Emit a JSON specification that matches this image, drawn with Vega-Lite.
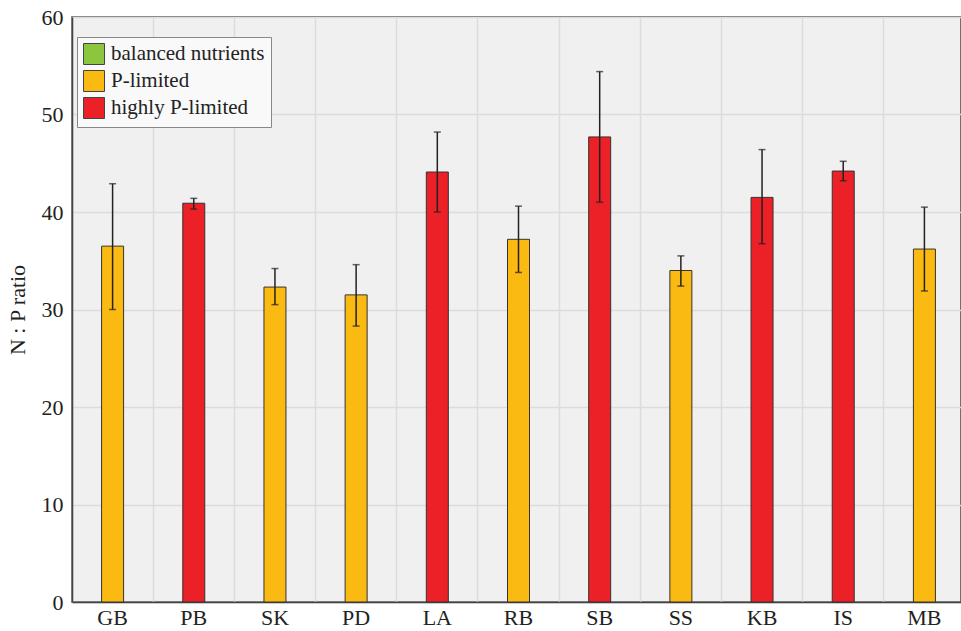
{
  "$schema": "https://vega.github.io/schema/vega-lite/v6.json",
  "autosize": {"type": "none"},
  "padding": {"left": 72, "top": 17, "right": 0, "bottom": 29},
  "width": 889,
  "height": 585,
  "background": "white",
  "data": {
    "values": [
      {"site": "GB", "ratio": 36.5, "lo": 30.0, "hi": 42.9, "class": "P-limited"},
      {"site": "PB", "ratio": 40.9, "lo": 40.3, "hi": 41.4, "class": "highly P-limited"},
      {"site": "SK", "ratio": 32.3, "lo": 30.5, "hi": 34.2, "class": "P-limited"},
      {"site": "PD", "ratio": 31.5, "lo": 28.3, "hi": 34.6, "class": "P-limited"},
      {"site": "LA", "ratio": 44.1, "lo": 40.0, "hi": 48.2, "class": "highly P-limited"},
      {"site": "RB", "ratio": 37.2, "lo": 33.8, "hi": 40.6, "class": "P-limited"},
      {"site": "SB", "ratio": 47.7, "lo": 41.0, "hi": 54.4, "class": "highly P-limited"},
      {"site": "SS", "ratio": 34.0, "lo": 32.4, "hi": 35.5, "class": "P-limited"},
      {"site": "KB", "ratio": 41.5, "lo": 36.75, "hi": 46.4, "class": "highly P-limited"},
      {"site": "IS", "ratio": 44.2, "lo": 43.2, "hi": 45.2, "class": "highly P-limited"},
      {"site": "MB", "ratio": 36.2, "lo": 31.9, "hi": 40.5, "class": "P-limited"}
    ]
  },
  "encoding": {
    "x": {
      "field": "site",
      "type": "nominal",
      "sort": null,
      "scale": {"paddingInner": 0, "paddingOuter": 0, "range": [0, 893]},
      "axis": {
        "title": null,
        "labelAngle": 0,
        "labelFont": "Liberation Serif",
        "labelFontSize": 22,
        "labelColor": "#222",
        "labelPadding": 5,
        "ticks": false,
        "grid": true,
        "bandPosition": 0,
        "gridColor": "#dcdcdc",
        "gridWidth": 1.5,
        "domainColor": "#444",
        "domainWidth": 1.5
      }
    }
  },
  "layer": [
    {
      "mark": {"type": "bar", "width": 22, "stroke": "#333", "strokeWidth": 1},
      "encoding": {
        "y": {
          "field": "ratio",
          "type": "quantitative",
          "scale": {"domain": [0, 60], "nice": false},
          "axis": {
            "title": "N : P ratio",
            "titleFont": "Liberation Serif",
            "titleFontSize": 22,
            "titleFontWeight": "normal",
            "titleColor": "#222",
            "titlePadding": 12,
            "values": [0, 10, 20, 30, 40, 50, 60],
            "labelFont": "Liberation Serif",
            "labelFontSize": 22,
            "labelColor": "#222",
            "labelPadding": 9,
            "ticks": false,
            "grid": true,
            "gridColor": "#dcdcdc",
            "gridWidth": 1.5,
            "domainColor": "#444",
            "domainWidth": 1.5
          }
        },
        "fill": {
          "field": "class",
          "type": "nominal",
          "scale": {
            "domain": ["balanced nutrients", "P-limited", "highly P-limited"],
            "range": ["#8cc63f", "#fbba12", "#ec2027"]
          },
          "legend": {
            "title": null,
            "orient": "none",
            "legendX": 5,
            "legendY": 20,
            "symbolType": "square",
            "symbolSize": 441,
            "symbolStrokeColor": "#444",
            "symbolStrokeWidth": 1,
            "labelFont": "Liberation Serif",
            "labelFontSize": 21,
            "labelColor": "#222",
            "labelOffset": 6,
            "rowPadding": 1,
            "padding": 6,
            "fillColor": "#f9f9f9",
            "strokeColor": "#888"
          }
        }
      }
    },
    {
      "mark": {"type": "rule", "color": "#222", "strokeWidth": 1.5},
      "encoding": {
        "y": {"field": "lo", "type": "quantitative"},
        "y2": {"field": "hi"}
      }
    },
    {
      "mark": {"type": "tick", "color": "#222", "size": 7, "thickness": 1.5},
      "encoding": {"y": {"field": "lo", "type": "quantitative"}}
    },
    {
      "mark": {"type": "tick", "color": "#222", "size": 7, "thickness": 1.5},
      "encoding": {"y": {"field": "hi", "type": "quantitative"}}
    }
  ],
  "config": {
    "view": {"fill": "#f0f0f0", "stroke": "#444", "strokeWidth": 1.5}
  }
}
